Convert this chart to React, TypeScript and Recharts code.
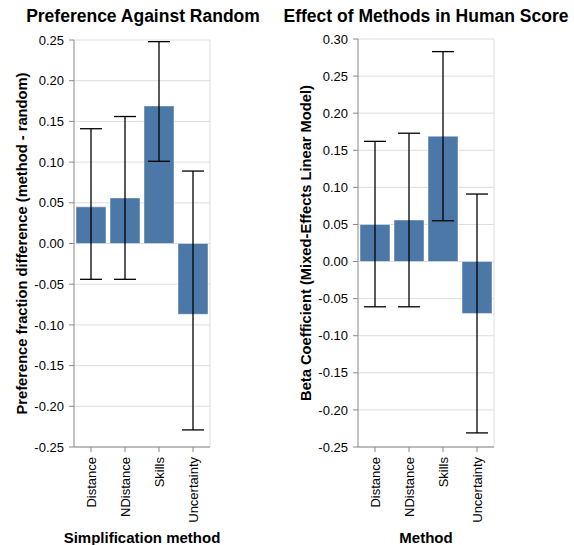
import React from 'react';
import { BarChart, Bar, XAxis, YAxis, CartesianGrid, ErrorBar, Label } from 'recharts';

const categories = ['Distance', 'NDistance', 'Skills', 'Uncertainty'];

const prefValues = [0.045, 0.056, 0.169, -0.087];
const prefLow = [-0.044, -0.044, 0.101, -0.229];
const prefHigh = [0.141, 0.156, 0.248, 0.089];

const betaValues = [0.05, 0.056, 0.169, -0.07];
const betaLow = [-0.061, -0.061, 0.055, -0.231];
const betaHigh = [0.162, 0.173, 0.283, 0.091];

const prefTicks = [0.25, 0.2, 0.15, 0.1, 0.05, 0, -0.05, -0.1, -0.15, -0.2, -0.25];
const betaTicks = [0.3, 0.25, 0.2, 0.15, 0.1, 0.05, 0, -0.05, -0.1, -0.15, -0.2, -0.25];

const buildData = (vals: number[], low: number[], high: number[]) =>
  categories.map((c, i) => ({
    method: c,
    value: vals[i],
    err: [vals[i] - low[i], high[i] - vals[i]],
  }));

const prefData = buildData(prefValues, prefLow, prefHigh);
const betaData = buildData(betaValues, betaLow, betaHigh);

const FONT = '"Liberation Sans", Arial, sans-serif';

const XTick = (props: any) => {
  const { x, y, payload } = props;
  return (
    <text
      x={x}
      y={y}
      transform={`rotate(-90, ${x}, ${y})`}
      textAnchor="end"
      dominantBaseline="central"
      fontSize={13}
      fill="#000"
      fontFamily={FONT}
    >
      {payload.value}
    </text>
  );
};

const YTitle = (text: string) => (props: any) => {
  const vb = props.viewBox;
  const cx = vb.x + 27;
  const cy = vb.y + vb.height / 2;
  return (
    <text
      x={cx}
      y={cy}
      transform={`rotate(-90, ${cx}, ${cy})`}
      textAnchor="middle"
      fontWeight="bold"
      fontSize={14.7}
      fill="#000"
      fontFamily={FONT}
    >
      {text}
    </text>
  );
};

const XTitle = (text: string) => (props: any) => {
  const vb = props.viewBox;
  return (
    <text
      x={vb.x + vb.width / 2}
      y={vb.y + 96}
      textAnchor="middle"
      fontWeight="bold"
      fontSize={15}
      fill="#000"
      fontFamily={FONT}
    >
      {text}
    </text>
  );
};

const Panel = ({
  data,
  ticks,
  domain,
  top,
  yTitle,
  xTitle,
}: {
  data: any[];
  ticks: number[];
  domain: [number, number];
  top: number;
  yTitle: string;
  xTitle: string;
}) => (
  <BarChart
    width={290}
    height={545}
    data={data}
    margin={{ top, right: 80, bottom: 0, left: 0 }}
    barCategoryGap={2}
  >
    <CartesianGrid
      stroke="#ddd"
      vertical={true}
      verticalCoordinatesGenerator={(p: any) => [p.offset.left + p.offset.width]}
    />
    <XAxis
      dataKey="method"
      interval={0}
      height={98}
      tickSize={5}
      tickMargin={5}
      axisLine={{ stroke: '#888' }}
      tickLine={{ stroke: '#888' }}
      tick={<XTick />}
    >
      <Label content={XTitle(xTitle)} />
    </XAxis>
    <YAxis
      type="number"
      domain={domain}
      ticks={ticks}
      interval={0}
      width={74}
      tickSize={5}
      tickMargin={5}
      allowDataOverflow
      axisLine={{ stroke: '#888' }}
      tickLine={{ stroke: '#888' }}
      tick={{ fill: '#000', fontSize: 13, fontFamily: FONT }}
      tickFormatter={(v: number) => v.toFixed(2)}
    >
      <Label content={YTitle(yTitle)} />
    </YAxis>
    <Bar
      dataKey="value"
      fill="#4c78a8"
      stroke="#ffffff"
      strokeOpacity={0.45}
      strokeWidth={1}
      isAnimationActive={false}
    >
      <ErrorBar
        dataKey="err"
        direction="y"
        width={11}
        stroke="#000"
        strokeWidth={1.3}
        isAnimationActive={false}
      />
    </Bar>
  </BarChart>
);

const titleStyle: React.CSSProperties = {
  position: 'absolute',
  top: 6,
  width: 286,
  textAlign: 'center',
  fontWeight: 'bold',
  fontSize: 17.5,
  lineHeight: '20px',
  fontFamily: FONT,
  color: '#000',
  whiteSpace: 'nowrap',
};

export default function App() {
  return (
    <div
      style={{
        position: 'absolute',
        left: 0,
        top: 0,
        width: 574,
        height: 545,
        background: '#fff',
        fontFamily: FONT,
        overflow: 'hidden',
      }}
    >
      <div style={{ ...titleStyle, left: 0 }}>Preference Against Random</div>
      <div style={{ ...titleStyle, left: 283 }}>Effect of Methods in Human Score</div>
      <div style={{ position: 'absolute', left: 0, top: 0 }}>
        <Panel
          data={prefData}
          ticks={prefTicks}
          domain={[-0.25, 0.25]}
          top={40}
          yTitle="Preference fraction difference (method - random)"
          xTitle="Simplification method"
        />
      </div>
      <div style={{ position: 'absolute', left: 284, top: 0 }}>
        <Panel
          data={betaData}
          ticks={betaTicks}
          domain={[-0.25, 0.3]}
          top={39}
          yTitle="Beta Coefficient (Mixed-Effects Linear Model)"
          xTitle="Method"
        />
      </div>
    </div>
  );
}
